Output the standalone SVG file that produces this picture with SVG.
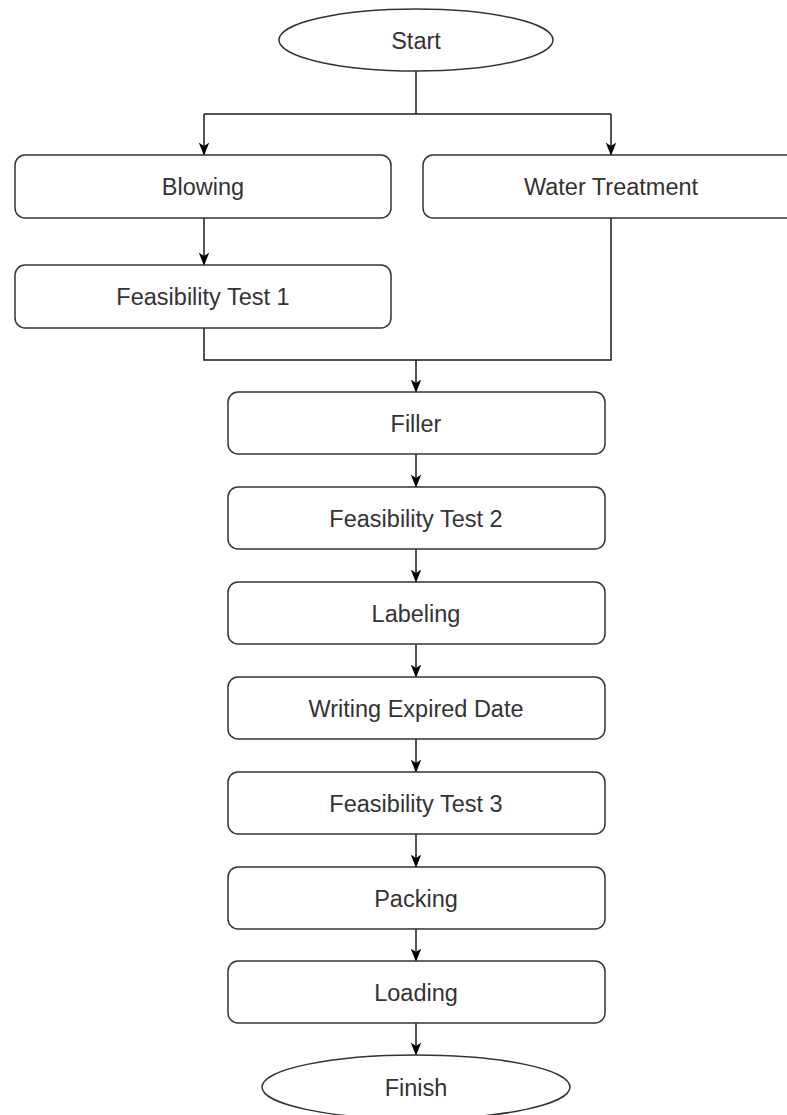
<svg xmlns="http://www.w3.org/2000/svg" width="787" height="1115" viewBox="0 0 787 1115">
  <style>
    .box { fill: #ffffff; stroke: #333333; stroke-width: 1.5; }
    .lbl { font-family: "Liberation Sans", Arial, sans-serif; font-size: 23.5px; fill: #333333; text-anchor: middle; }
    .edge { fill: none; stroke: #1a1a1a; stroke-width: 1.5; }
    .arr { marker-end: url(#head); }
  </style>
  <defs>
    <marker id="head" viewBox="0 0 10 10" refX="9.5" refY="5" markerWidth="13" markerHeight="13" markerUnits="userSpaceOnUse" orient="auto">
      <path d="M0,1 L10,5 L0,9 L2.5,5 Z" fill="#000000"/>
    </marker>
  </defs>
  <rect width="787" height="1115" fill="#ffffff"/>

  <g id="connectors">
    <path class="edge" d="M416,71 L416,114"/>
    <path class="edge" d="M204,114 L611,114"/>
    <path class="edge arr" d="M204,114 L204,155"/>
    <path class="edge arr" d="M611,114 L611,155"/>
    <path class="edge arr" d="M204,218 L204,265"/>
    <path class="edge" d="M204,328 L204,360 L611,360 L611,218"/>
    <path class="edge arr" d="M416,360 L416,392"/>
    <path class="edge arr" d="M416,454 L416,487"/>
    <path class="edge arr" d="M416,549 L416,582"/>
    <path class="edge arr" d="M416,644 L416,677"/>
    <path class="edge arr" d="M416,739 L416,772"/>
    <path class="edge arr" d="M416,834 L416,867"/>
    <path class="edge arr" d="M416,929 L416,961"/>
    <path class="edge arr" d="M416,1023 L416,1055"/>
  </g>

  <g id="start">
    <ellipse class="box" cx="416" cy="40" rx="137" ry="31"/>
    <text class="lbl" x="416" y="49">Start</text>
  </g>
  <g id="blowing">
    <rect class="box" x="15" y="155" width="376" height="63" rx="10"/>
    <text class="lbl" x="203" y="195">Blowing</text>
  </g>
  <g id="water-treatment">
    <rect class="box" x="423" y="155" width="376" height="63" rx="10"/>
    <text class="lbl" x="611" y="195">Water Treatment</text>
  </g>
  <g id="feasibility-test-1">
    <rect class="box" x="15" y="265" width="376" height="63" rx="10"/>
    <text class="lbl" x="203" y="305">Feasibility Test 1</text>
  </g>
  <g id="filler">
    <rect class="box" x="228" y="392" width="377" height="62" rx="10"/>
    <text class="lbl" x="416" y="432">Filler</text>
  </g>
  <g id="feasibility-test-2">
    <rect class="box" x="228" y="487" width="377" height="62" rx="10"/>
    <text class="lbl" x="416" y="527">Feasibility Test 2</text>
  </g>
  <g id="labeling">
    <rect class="box" x="228" y="582" width="377" height="62" rx="10"/>
    <text class="lbl" x="416" y="622">Labeling</text>
  </g>
  <g id="writing-expired-date">
    <rect class="box" x="228" y="677" width="377" height="62" rx="10"/>
    <text class="lbl" x="416" y="717">Writing Expired Date</text>
  </g>
  <g id="feasibility-test-3">
    <rect class="box" x="228" y="772" width="377" height="62" rx="10"/>
    <text class="lbl" x="416" y="812">Feasibility Test 3</text>
  </g>
  <g id="packing">
    <rect class="box" x="228" y="867" width="377" height="62" rx="10"/>
    <text class="lbl" x="416" y="907">Packing</text>
  </g>
  <g id="loading">
    <rect class="box" x="228" y="961" width="377" height="62" rx="10"/>
    <text class="lbl" x="416" y="1001">Loading</text>
  </g>
  <g id="finish">
    <ellipse class="box" cx="416" cy="1087" rx="154" ry="32"/>
    <text class="lbl" x="416" y="1096">Finish</text>
  </g>
</svg>
